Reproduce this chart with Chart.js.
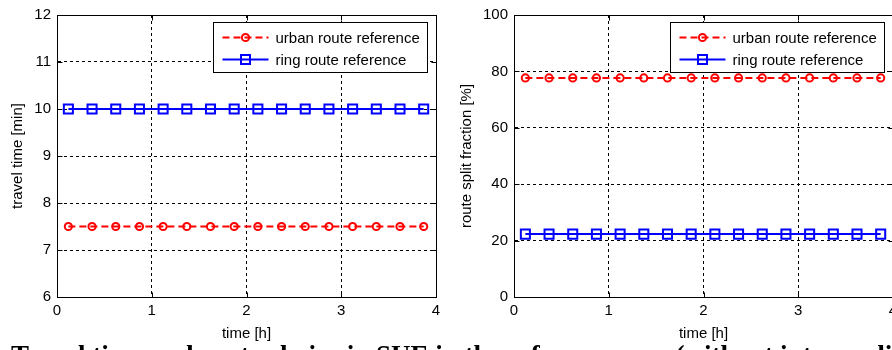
<!DOCTYPE html>
<html>
<head>
<meta charset="utf-8">
<script src="https://cdn.jsdelivr.net/npm/chart.js@4.4.1/dist/chart.umd.min.js"></script>
<style>
  html, body { margin: 0; padding: 0; background: #fff; }
  body { width: 892px; height: 350px; overflow: hidden; position: relative; }
  .plot { position: absolute; top: 0; }
  #caption {
    position: absolute; left: 11px; top: 342px; white-space: nowrap;
    font: bold 27px "Liberation Serif", "Times New Roman", serif; line-height: 27px; color: #000;
  }
</style>
</head>
<body>
<div class="plot" style="left:0px"><canvas id="timeChart" width="450" height="350"></canvas></div>
<div class="plot" style="left:440px"><canvas id="splitChart" width="480" height="350"></canvas></div>
<div id="caption">Travel time and route choice in SUE in the reference case (without intermediate</div>

<script>
// Data
const timeHours = [0.12, 0.37, 0.62, 0.87, 1.12, 1.37, 1.62, 1.87, 2.12, 2.37, 2.62, 2.87, 3.12, 3.37, 3.62, 3.87]
const urbanTravelTime = [7.5, 7.5, 7.5, 7.5, 7.5, 7.5, 7.5, 7.5, 7.5, 7.5, 7.5, 7.5, 7.5, 7.5, 7.5, 7.5]
const ringTravelTime = [10, 10, 10, 10, 10, 10, 10, 10, 10, 10, 10, 10, 10, 10, 10, 10]
const urbanSplit = [77.7, 77.7, 77.7, 77.7, 77.7, 77.7, 77.7, 77.7, 77.7, 77.7, 77.7, 77.7, 77.7, 77.7, 77.7, 77.7]
const ringSplit = [22.3, 22.3, 22.3, 22.3, 22.3, 22.3, 22.3, 22.3, 22.3, 22.3, 22.3, 22.3, 22.3, 22.3, 22.3, 22.3]
const legendLabels = ["urban route reference", "ring route reference"]

const tickFont = { family: "'Liberation Sans', Arial", size: 15 }
const labelFont = { family: "'Liberation Sans', Arial", size: 15 }

function toPoints(xs, ys) {
  return xs.map((x, i) => ({ x: x, y: ys[i] }))
}

function urbanDataset(values) {
  return {
    label: legendLabels[0],
    data: toPoints(timeHours, values),
    borderColor: "#ff0000",
    borderWidth: 2,
    borderDash: [7, 4],
    pointStyle: "circle",
    pointRadius: 3.6,
    pointBorderWidth: 2,
    pointBorderColor: "#ff0000",
    pointBackgroundColor: "rgba(0,0,0,0)",
  }
}

function ringDataset(values) {
  return {
    label: legendLabels[1],
    data: toPoints(timeHours, values),
    borderColor: "#0000ff",
    borderWidth: 2,
    pointStyle: "rect",
    pointRadius: 6.4,
    pointBorderWidth: 2,
    pointBorderColor: "#0000ff",
    pointBackgroundColor: "rgba(0,0,0,0)",
  }
}

// Solid box around the axes, inward tick marks and the boxed legend
const matlabBox = {
  id: "matlabBox",
  afterDraw(chart) {
    const ctx = chart.ctx
    const a = chart.chartArea
    ctx.save()
    ctx.strokeStyle = "#000"
    ctx.lineWidth = 1
    ctx.setLineDash([])
    const L = Math.round(a.left) + 0.5, R = Math.round(a.right) + 0.5
    const T = Math.round(a.top) + 0.5, B = Math.round(a.bottom) + 0.5
    ctx.strokeRect(L, T, R - L, B - T)

    ctx.beginPath()
    chart.scales.x.ticks.forEach((t) => {
      const px = Math.round(chart.scales.x.getPixelForValue(t.value)) + 0.5
      ctx.moveTo(px, B); ctx.lineTo(px, B - 5)
      ctx.moveTo(px, T); ctx.lineTo(px, T + 5)
    })
    chart.scales.y.ticks.forEach((t) => {
      const py = Math.round(chart.scales.y.getPixelForValue(t.value)) + 0.5
      ctx.moveTo(L, py); ctx.lineTo(L + 5, py)
      ctx.moveTo(R, py); ctx.lineTo(R - 5, py)
    })
    ctx.stroke()

    // legend
    const bw = 214, bh = 50
    const bx = Math.round(a.right - 9 - bw) + 0.5
    const by = Math.round(a.top + 7) + 0.5
    ctx.fillStyle = "#fff"
    ctx.fillRect(bx, by, bw, bh)
    ctx.strokeRect(bx, by, bw, bh)

    ctx.font = labelFont.size + "px " + labelFont.family
    ctx.textBaseline = "middle"
    ctx.textAlign = "left"
    chart.data.datasets.forEach((ds, i) => {
      const cy = by + 15 + i * 22
      ctx.strokeStyle = ds.borderColor
      ctx.lineWidth = ds.borderWidth
      ctx.setLineDash(ds.borderDash || [])
      ctx.beginPath()
      ctx.moveTo(bx + 9, cy)
      ctx.lineTo(bx + 55, cy)
      ctx.stroke()
      ctx.setLineDash([])
      ctx.lineWidth = ds.pointBorderWidth
      ctx.beginPath()
      if (ds.pointStyle === "rect") {
        ctx.rect(bx + 32 - 4.5, cy - 4.5, 9, 9)
      } else {
        ctx.arc(bx + 32, cy, ds.pointRadius, 0, Math.PI * 2)
      }
      ctx.stroke()
      ctx.fillStyle = "#000"
      ctx.fillText(ds.label, bx + 62, cy + 1)
    })
    ctx.restore()
  },
}

function makeChart(canvasId, datasets, yMin, yMax, yStep, yTitle, yAxisWidth, yTitlePad, rightPad) {
  return new Chart(document.getElementById(canvasId), {
    type: "line",
    data: { datasets: datasets },
    plugins: [matlabBox],
    options: {
      responsive: false,
      animation: false,
      layout: { padding: { top: 9, right: rightPad, left: 0, bottom: 0 } },
      plugins: { legend: { display: false }, tooltip: { enabled: false } },
      scales: {
        x: {
          type: "linear",
          min: 0,
          max: 4,
          ticks: { stepSize: 1, color: "#000", font: tickFont, padding: 5, maxRotation: 0 },
          grid: { color: "#000", lineWidth: 1, drawTicks: false },
          border: { display: true, color: "#000", dash: [3, 3] },
          title: { display: true, text: "time [h]", color: "#000", font: labelFont, padding: { top: 0, bottom: 7 } },
          afterFit: (scale) => { scale.height = 53 },
        },
        y: {
          min: yMin,
          max: yMax,
          ticks: { stepSize: yStep, color: "#000", font: tickFont, padding: 6 },
          grid: { color: "#000", lineWidth: 1, drawTicks: false },
          border: { display: true, color: "#000", dash: [3, 3] },
          title: { display: true, text: yTitle, color: "#000", font: labelFont, padding: { top: yTitlePad, bottom: 0 } },
          afterFit: (scale) => { scale.width = yAxisWidth },
        },
      },
    },
  })
}

makeChart("timeChart", [urbanDataset(urbanTravelTime), ringDataset(ringTravelTime)],
  6, 12, 1, "travel time [min]", 57, 9, 14)
makeChart("splitChart", [urbanDataset(urbanSplit), ringDataset(ringSplit)],
  0, 100, 20, "route split fraction [%]", 74, 18, 27)
</script>
</body>
</html>
